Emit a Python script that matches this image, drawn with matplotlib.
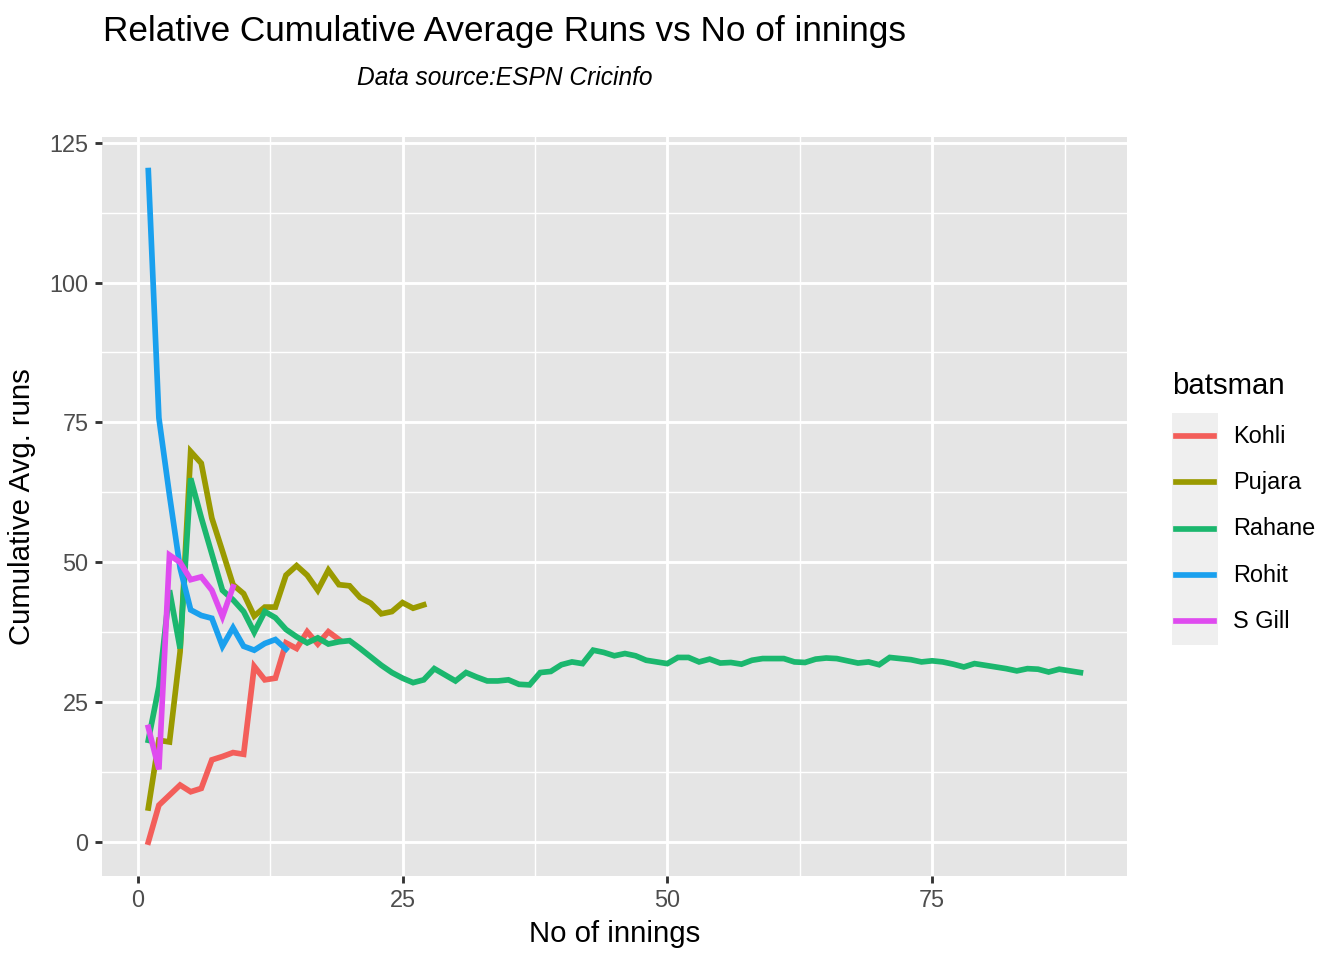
import matplotlib
matplotlib.use("Agg")
import matplotlib.pyplot as plt
from matplotlib.lines import Line2D
from matplotlib.patches import Rectangle
import numpy as np

plt.rcParams['font.family'] = ['Liberation Sans', 'DejaVu Sans']

batsmen = ["Kohli", "Pujara", "Rahane", "Rohit", "S Gill"]
colors = ["#F35E5A", "#9A9A00", "#1BB76E", "#1AA0EE", "#DF4BEF"]

# cumulative average after each innings (innings no = index + 1)
kohli = [0, 6.6, 8.4, 10.2, 9.0, 9.6, 14.7, 15.3, 16.0, 15.7,
         31.4, 29.0, 29.3, 35.6, 34.6, 37.6, 35.4, 37.6, 36.2]
pujara = [6.1, 18.2, 17.9, 34.0, 69.8, 67.7, 57.9, 52.0, 46.0, 44.4,
          40.4, 42.0, 42.0, 47.7, 49.4, 47.7, 45.0, 48.6, 46.0, 45.8,
          43.7, 42.7, 40.8, 41.2, 42.8, 41.8, 42.4]
rahane = [18.2, 27.8, 45.0, 34.6, 65.0, 58.0, 51.5, 45.0, 43.3, 41.2,
          37.5, 41.2, 40.1, 38.0, 36.7, 35.6, 36.5, 35.4, 35.8, 36.0,
          34.6, 33.1, 31.6, 30.3, 29.3, 28.5, 29.0, 31.0, 29.9, 28.8,
          30.3, 29.5, 28.8, 28.8, 29.0, 28.2, 28.1, 30.3, 30.5, 31.7,
          32.2, 31.9, 34.3, 33.9, 33.3, 33.7, 33.3, 32.5, 32.2, 31.9,
          33.0, 33.0, 32.2, 32.7, 32.0, 32.1, 31.8, 32.5, 32.8, 32.8,
          32.8, 32.2, 32.1, 32.7, 32.9, 32.8, 32.4, 32.0, 32.2, 31.7,
          33.0, 32.8, 32.6, 32.2, 32.4, 32.2, 31.8, 31.3, 31.9, 31.6,
          31.3, 31.0, 30.6, 31.0, 30.9, 30.4, 30.9, 30.6, 30.3]
rohit = [120.0, 75.8, 62.0, 49.0, 41.5, 40.5, 40.0, 35.0, 38.3, 35.0,
         34.3, 35.5, 36.2, 34.5]
sgill = [20.5, 13.0, 51.3, 50.0, 46.9, 47.4, 45.0, 40.3, 45.6]

series = [kohli, pujara, rahane, rohit, sgill]

xticks = [0, 25, 50, 75]
yticks = [0, 25, 50, 75, 100, 125]

W, H = 1344, 960
fig = plt.figure(figsize=(7, 5), dpi=192)
ax = fig.add_axes([101.7 / W, 1 - 875.7 / H, (1127 - 101.7) / W, (875.7 - 137) / H])
ax.set_facecolor("#E5E5E5")

for name, vals, col in zip(batsmen, series, colors):
    x = np.arange(1, len(vals) + 1)
    ax.plot(x, vals, color=col, lw=2.13, solid_joinstyle='miter', zorder=3)

ax.margins(x=0.05, y=0.05)
ax.set_xticks(xticks)
ax.set_yticks(yticks)
ax.set_xticks([12.5, 37.5, 62.5, 87.5], minor=True)
ax.set_yticks([12.5, 37.5, 62.5, 87.5, 112.5], minor=True)
ax.grid(which='major', color='white', lw=1.07, zorder=1)
ax.grid(which='minor', color='white', lw=0.53, zorder=1)
ax.set_axisbelow(True)
for s in ax.spines.values():
    s.set_visible(False)
ax.tick_params(which='major', length=2.75, width=1.07, color='#333333',
               labelsize=8.8, labelcolor='#4D4D4D', pad=2.2)
ax.tick_params(which='minor', length=0)

ax.set_xlabel("No of innings", fontsize=11, labelpad=3)
ax.set_ylabel("Cumulative Avg. runs", fontsize=11, labelpad=5)

fig.text(103 / W, 1 - 41 / H, "Relative Cumulative Average Runs vs No of innings",
         fontsize=13.2, ha='left', va='baseline')
fig.text(505 / W, 1 - 85 / H, "Data source:ESPN Cricinfo",
         fontsize=9.2, style='italic', ha='center', va='baseline')

# legend drawn ggplot-style
fig.text(1172 / W, 1 - 386 / H, "batsman", fontsize=11, ha='left', va='center')
key_top, key_h = 413, 46.3
fig.add_artist(Rectangle((1172 / W, 1 - (key_top + key_h * len(batsmen)) / H),
                         46 / W, key_h * len(batsmen) / H,
                         transform=fig.transFigure, facecolor='#EFEFEF',
                         edgecolor='none'))
for i, (name, col) in enumerate(zip(batsmen, colors)):
    yc = 1 - (key_top + key_h * (i + 0.5)) / H
    fig.add_artist(Line2D([1176 / W, 1214 / W], [yc, yc], transform=fig.transFigure,
                          color=col, lw=2.13))
    fig.text(1233 / W, yc, name, fontsize=8.8, ha='left', va='center')

fig.savefig("out.png", dpi=192)
